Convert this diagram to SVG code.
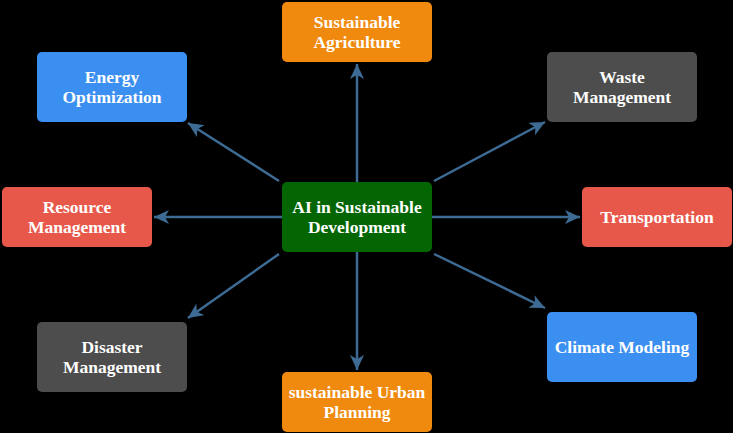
<svg xmlns="http://www.w3.org/2000/svg" width="733" height="433" viewBox="0 0 733 433">
<style>
.box{stroke:none}
.t{font-family:'Liberation Serif','Times New Roman',Tinos,'DejaVu Serif',serif;font-weight:700;font-size:17.5px;fill:#ffffff;text-anchor:middle}
.c{stroke:#3d6b94;stroke-width:2.5;fill:none;marker-end:url(#ah)}
</style>
<defs>
<marker id="ah" markerUnits="userSpaceOnUse" markerWidth="16" markerHeight="14" refX="15" refY="7" orient="auto">
<path d="M0,0 L15,7 L0,14 L4,7 Z" fill="#3d6b94"/>
</marker>
</defs>
<rect width="733" height="433" fill="#000000"/>
<g id="connectors">
<line class="c" x1="357" y1="182" x2="357" y2="64"/>
<line class="c" x1="357" y1="252" x2="357" y2="370"/>
<line class="c" x1="282" y1="217" x2="154" y2="217"/>
<line class="c" x1="432" y1="217" x2="580" y2="217"/>
<line class="c" x1="279" y1="181" x2="188" y2="123"/>
<line class="c" x1="434" y1="181" x2="545" y2="122"/>
<line class="c" x1="279" y1="254" x2="188" y2="318"/>
<line class="c" x1="434" y1="254" x2="545" y2="308"/>
</g>
<g id="center">
<rect class="box" x="282" y="182" width="150" height="70" rx="5" fill="#036603"/>
<text class="t" x="357" y="212.5">AI in Sustainable</text>
<text class="t" x="357" y="232.5">Development</text>
</g>
<g id="agriculture">
<rect class="box" x="282" y="2" width="150" height="60" rx="5" fill="#f08a0e"/>
<text class="t" x="357" y="28">Sustainable</text>
<text class="t" x="357" y="48">Agriculture</text>
</g>
<g id="energy">
<rect class="box" x="37" y="52" width="150" height="70" rx="5" fill="#3b8ff0"/>
<text class="t" x="112" y="82.5">Energy</text>
<text class="t" x="112" y="102.5">Optimization</text>
</g>
<g id="waste">
<rect class="box" x="547" y="52" width="150" height="70" rx="5" fill="#4d4d4d"/>
<text class="t" x="622" y="82.5">Waste</text>
<text class="t" x="622" y="102.5">Management</text>
</g>
<g id="resource">
<rect class="box" x="2" y="187" width="150" height="60" rx="5" fill="#e8584a"/>
<text class="t" x="77" y="213">Resource</text>
<text class="t" x="77" y="233">Management</text>
</g>
<g id="transportation">
<rect class="box" x="582" y="187" width="150" height="60" rx="5" fill="#e8584a"/>
<text class="t" x="657" y="223">Transportation</text>
</g>
<g id="disaster">
<rect class="box" x="37" y="322" width="150" height="70" rx="5" fill="#4d4d4d"/>
<text class="t" x="112" y="352.5">Disaster</text>
<text class="t" x="112" y="372.5">Management</text>
</g>
<g id="climate">
<rect class="box" x="547" y="312" width="150" height="70" rx="5" fill="#3b8ff0"/>
<text class="t" x="622" y="353">Climate Modeling</text>
</g>
<g id="urban">
<rect class="box" x="282" y="372" width="150" height="60" rx="5" fill="#f08a0e"/>
<text class="t" x="357" y="398">sustainable Urban</text>
<text class="t" x="357" y="418">Planning</text>
</g>
</svg>
